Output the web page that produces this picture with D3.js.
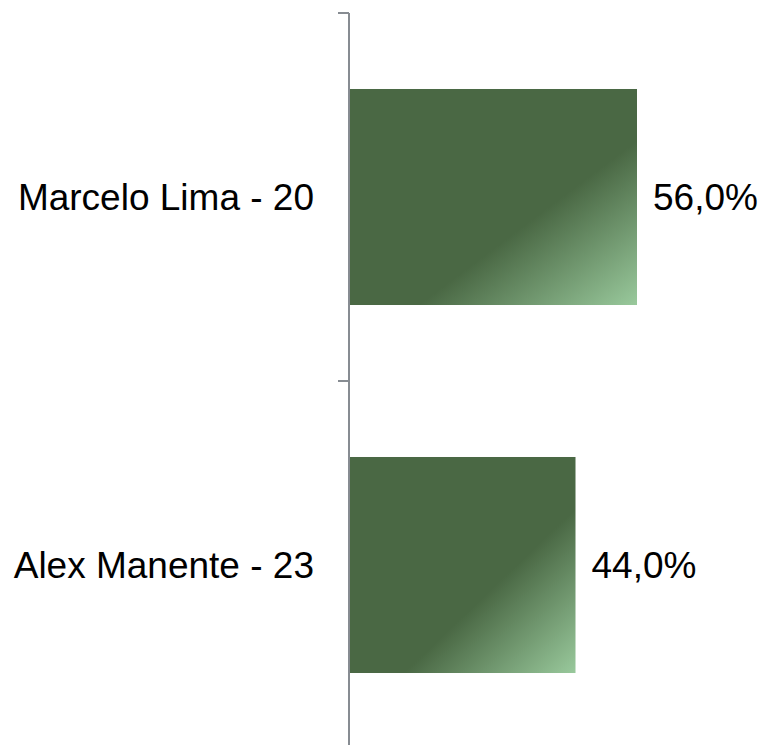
<!DOCTYPE html>
<html>
<head>
<meta charset="utf-8">
<script src="https://cdn.jsdelivr.net/npm/d3@7"></script>
<style>
  body { margin: 0; background: #fff; }
  svg { display: block; font-family: "Liberation Sans", Arial, sans-serif; }
</style>
</head>
<body>
<script>

// Chart data
const candidates = ["Marcelo Lima - 20", "Alex Manente - 23"];
const shares = [56.0, 44.0];

const width = 763;
const height = 745;
const axisX = 349;
const axisTop = 13;
const axisBottom = 749;

// Category (vertical) scale, bands between the ticks
const y = d3.scaleBand(candidates, [axisTop, axisBottom])
    .paddingInner(0.413)
    .paddingOuter(0.2065);

// Value (horizontal) scale
const x = d3.scaleLinear([0, 100], [axisX + 1, axisX + 1 + 512.5]);

const svg = d3.create("svg")
    .attr("width", width)
    .attr("height", height)
    .attr("viewBox", [0, 0, width, height]);

// Gradient used by the bars
const grad = svg.append("defs").append("linearGradient")
    .attr("id", "barGrad")
    .attr("x1", 0).attr("y1", 0)
    .attr("x2", 1).attr("y2", 1);
grad.append("stop").attr("offset", "0%").attr("stop-color", "#4a6844");
grad.append("stop").attr("offset", "62%").attr("stop-color", "#4a6844");
grad.append("stop").attr("offset", "100%").attr("stop-color", "#99c99c");

const data = candidates.map((c, i) => ({name: c, value: shares[i]}));

// Bars
svg.selectAll("rect.bar")
    .data(data)
    .enter().append("rect")
    .attr("class", "bar")
    .attr("x", x(0))
    .attr("y", d => y(d.name))
    .attr("width", d => x(d.value) - x(0))
    .attr("height", y.bandwidth())
    .attr("fill", "url(#barGrad)");

// Axis line and ticks at band boundaries
const axis = svg.append("g").attr("stroke", "#878c92").attr("stroke-width", 2);
axis.append("line")
    .attr("x1", axisX).attr("x2", axisX)
    .attr("y1", axisTop).attr("y2", axisBottom);
const bounds = [axisTop].concat(candidates.map(c => y(c) - y.step() * y.paddingInner() / 2 + y.step()));
axis.selectAll("line.tick")
    .data(bounds)
    .enter().append("line")
    .attr("class", "tick")
    .attr("x1", axisX - 11).attr("x2", axisX)
    .attr("y1", d => d).attr("y2", d => d);

// Category labels
svg.selectAll("text.cat")
    .data(data)
    .enter().append("text")
    .attr("class", "cat")
    .attr("x", axisX - 35)
    .attr("y", d => y(d.name) + y.bandwidth() / 2)
    .attr("dy", "0.35em")
    .attr("text-anchor", "end")
    .attr("font-size", "37px")
    .attr("fill", "#000")
    .text(d => d.name);

// Value labels
svg.selectAll("text.val")
    .data(data)
    .enter().append("text")
    .attr("class", "val")
    .attr("x", d => x(d.value) + 16)
    .attr("y", d => y(d.name) + y.bandwidth() / 2)
    .attr("dy", "0.35em")
    .attr("font-size", "37px")
    .attr("fill", "#000")
    .text(d => d.value.toFixed(1).replace(".", ",") + "%");

document.body.appendChild(svg.node());
</script>
</body>
</html>
